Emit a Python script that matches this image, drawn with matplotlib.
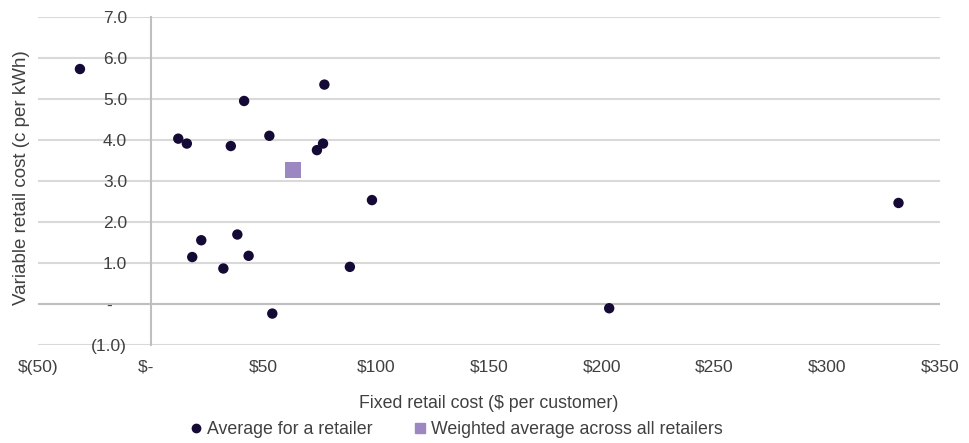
import matplotlib
matplotlib.use("Agg")
import matplotlib.pyplot as plt
from matplotlib.lines import Line2D

plt.rcParams['font.family'] = ['Liberation Sans', 'DejaVu Sans']

# Average cost for each retailer: fixed ($ per customer) and variable (c per kWh)
retailer_fixed = [-31.4, 12.2, 16.0, 35.5, 41.4, 52.6, 73.7, 76.4, 77.0,
                  18.4, 22.4, 32.2, 38.4, 43.4, 53.9, 98.1, 88.3, 203.3, 331.6]
retailer_variable = [5.73, 4.03, 3.91, 3.85, 4.95, 4.10, 3.75, 3.91, 5.35,
                     1.14, 1.55, 0.86, 1.69, 1.17, -0.24, 2.53, 0.90, -0.11, 2.46]

# Weighted average across all retailers
weighted_fixed = [63.2]
weighted_variable = [3.26]

x_ticks = [-50, 0, 50, 100, 150, 200, 250, 300, 350]
x_tick_labels = ['$(50)', '$-  ', '$50', '$100', '$150', '$200', '$250', '$300', '$350']
y_ticks = [-1, 0, 1, 2, 3, 4, 5, 6, 7]
y_tick_labels = ['(1.0)', '-   ', '1.0', '2.0', '3.0', '4.0', '5.0', '6.0', '7.0']

dot_color = '#140a35'
square_color = '#9d87c2'
grid_color = '#d9d9d9'
axis_color = '#bfbfbf'
text_color = '#404040'

W, H = 970, 443
fig = plt.figure(figsize=(W / 100, H / 100), dpi=100)
left, right, top, bottom = 38, 940, 17, 344.7
ax = fig.add_axes([left / W, 1 - bottom / H, (right - left) / W, (bottom - top) / H])

ax.set_xlim(-50, 350)
ax.set_ylim(-1, 7)

for s in ['top', 'right', 'bottom']:
    ax.spines[s].set_visible(False)
ax.spines['left'].set_position(('data', 0))
ax.spines['left'].set_color(axis_color)
ax.spines['left'].set_linewidth(1.5)

ax.set_yticks(y_ticks)
ax.set_yticklabels(y_tick_labels)
ax.set_xticks(x_ticks)
ax.set_xticklabels(x_tick_labels)
ax.tick_params(axis='y', length=0, pad=17, labelsize=12.5, labelcolor=text_color)
ax.tick_params(axis='x', length=0, pad=11, labelsize=12.5, labelcolor=text_color)

ax.yaxis.grid(True, color=grid_color, linewidth=1.5)
ax.xaxis.grid(False)
ax.set_axisbelow(True)
ax.axhline(0, color=axis_color, linewidth=1.5, zorder=1.5)

ax.scatter(retailer_fixed, retailer_variable, s=56, color=dot_color,
           edgecolors='none', zorder=3)
ax.scatter(weighted_fixed, weighted_variable, s=135, marker='s',
           color=square_color, edgecolors='none', zorder=3)

fig.text(22 / W, 1 - 178 / H, 'Variable retail cost (c per kWh)', rotation=90,
         ha='center', va='center', fontsize=13.5, color=text_color)
fig.text(489 / W, 1 - 403 / H, 'Fixed retail cost ($ per customer)',
         ha='center', va='center', fontsize=12.8, color=text_color)

handles = [
    Line2D([], [], marker='o', linestyle='none', color=dot_color, markersize=6),
    Line2D([], [], marker='s', linestyle='none', color=square_color, markersize=7),
]
labels = ['Average for a retailer', 'Weighted average across all retailers']
fig.legend(handles, labels, loc='center', bbox_to_anchor=(455 / W, 1 - 430 / H),
           ncol=2, frameon=False, fontsize=12.8, handletextpad=0.1,
           columnspacing=2.2, handlelength=1.0, labelcolor=text_color)

fig.savefig('out.png', dpi=100)
